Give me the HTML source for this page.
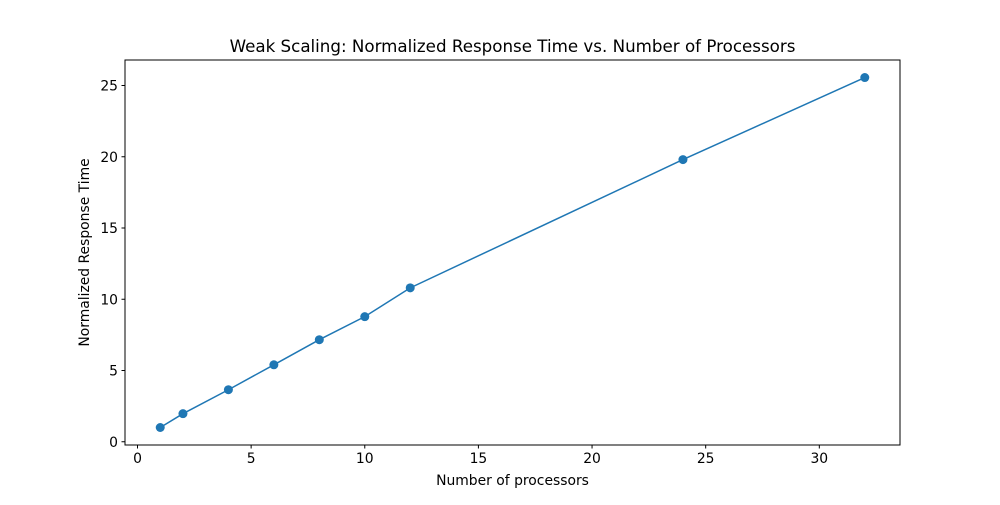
<!DOCTYPE html>
<html><head><meta charset="utf-8"><style>
body{margin:0;background:#fff;}
svg text{font-family:"DejaVu Sans","Liberation Sans",sans-serif;fill:#000;}
</style></head><body>
<svg id="chart" width="1000" height="500" xmlns="http://www.w3.org/2000/svg">
<rect width="1000" height="500" fill="#fff"/>
<text x="512.5" y="52" font-size="16.7" text-anchor="middle">Weak Scaling: Normalized Response Time vs. Number of Processors</text>
<text x="512.5" y="485" font-size="13.9" text-anchor="middle">Number of processors</text>
<text transform="translate(89,252.5) rotate(-90)" font-size="13.9" text-anchor="middle">Normalized Response Time</text>
<g id="xticks"></g><g id="yticks"></g><g id="series"></g>
<rect x="125" y="60" width="775" height="385" fill="none" stroke="#000" stroke-width="1"/>
</svg>
<script>
const processors = [1, 2, 4, 6, 8, 10, 12, 24, 32];
const responseTimes = [1.0, 1.97, 3.65, 5.4, 7.16, 8.78, 10.8, 19.8, 25.56];
const xTickValues = [0, 5, 10, 15, 20, 25, 30];
const yTickValues = [0, 5, 10, 15, 20, 25];
const L=125,R=900,T=60,B=445;
const xmin=-0.55,xmax=33.55,ymin=-0.228,ymax=26.79;
const sx=v=>L+(v-xmin)/(xmax-xmin)*(R-L);
const sy=v=>B-(v-ymin)/(ymax-ymin)*(B-T);
const NS="http://www.w3.org/2000/svg";
function mk(tag,attrs,parent){const e=document.createElementNS(NS,tag);for(const k in attrs)e.setAttribute(k,attrs[k]);parent.appendChild(e);return e;}
const xg=document.getElementById('xticks'),yg=document.getElementById('yticks'),sg=document.getElementById('series');
xTickValues.forEach(v=>{const x=sx(v);
 const l=mk('line',{x1:x,x2:x,y1:B,y2:B+3.5,stroke:'#000'},xg);
 
 
 const t=mk('text',{x:x,y:B+18,'font-size':13.9,'text-anchor':'middle'},xg);t.textContent=v;
 
 });
yTickValues.forEach(v=>{const y=sy(v);
 const l=mk('line',{x1:L-3.5,x2:L,y1:y,y2:y,stroke:'#000'},yg);
 
 
 const t=mk('text',{x:L-7,y:y+5,'font-size':13.9,'text-anchor':'end'},yg);t.textContent=v;
 
 });
const pts=processors.map((p,i)=>sx(p)+','+sy(responseTimes[i])).join(' ');
const pl=mk('polyline',{points:pts,fill:'none',stroke:'#1f77b4','stroke-width':1.5},sg);


processors.forEach((p,i)=>{const c=mk('circle',{cx:sx(p),cy:sy(responseTimes[i]),r:4.5,fill:'#1f77b4'},sg);
 
 });
</script>
</body></html>
